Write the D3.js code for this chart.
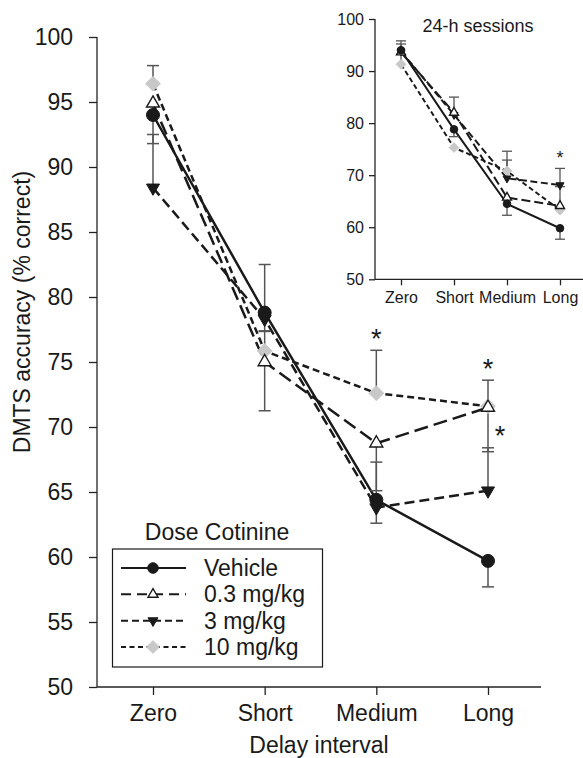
<!DOCTYPE html>
<html>
<head>
<meta charset="utf-8">
<script src="https://cdn.jsdelivr.net/npm/d3@7"></script>
<style>
  html, body { margin: 0; padding: 0; background: #fff; }
  svg { display: block; font-family: "Liberation Sans", Arial, sans-serif; }
</style>
</head>
<body>
<svg id="chart" width="583" height="758"></svg>
<script>
// Delay intervals and cotinine doses
const categories = ["Zero", "Short", "Medium", "Long"];
const doses = ["Vehicle", "0.3 mg/kg", "3 mg/kg", "10 mg/kg"];
const yTicksMain = [50, 55, 60, 65, 70, 75, 80, 85, 90, 95, 100];
const yTicksInset = [50, 60, 70, 80, 90, 100];

// Standard sessions: mean accuracy and one-sided SEM (negative = drawn downward)
const mainVehicle = [94.0, 78.8, 64.4, 59.7];
const mainVehicleErr = [-2.2, 3.7, -1.8, -2.0];
const main03 = [94.9, 75.0, 68.75, 71.5];
const main03Err = [-0.9, -3.75, -3.65, -3.4];
const main3 = [88.4, 78.3, 63.8, 65.1];
const main3Err = [4.1, -0.9, 3.5, 3.3];
const main10 = [96.4, 75.85, 72.6, 71.6];
const main10Err = [1.4, 1.5, 3.3, 2.0];

// 24-h sessions
const insVehicle = [94.0, 78.8, 64.5, 59.8];
const insVehicleErr = [1.8, -1.4, -2.2, -2.1];
const ins03 = [93.6, 82.0, 65.7, 64.1];
const ins03Err = [1.6, 3.0, 0, 3.7];
const ins3 = [93.8, 81.6, 69.4, 68.1];
const ins3Err = [0, 0, 3.5, 3.2];
const ins10 = [91.3, 75.3, 70.8, 63.3];
const ins10Err = [1.9, 0, 3.8, 0];

// Significance marks (delay, level on the accuracy scale)
const mainStars = [
  { cat: "Medium", at: 77.3, side: false },
  { cat: "Long", at: 75.0, side: false },
  { cat: "Long", at: 69.8, side: true }
];
const insetStars = [{ cat: "Long", at: 74.2, side: false }];

const seriesStyle = {
  "Vehicle":   { marker: "circle",   dash: null },
  "0.3 mg/kg": { marker: "triUp",    dash: "long" },
  "3 mg/kg":   { marker: "triDown",  dash: "mid" },
  "10 mg/kg":  { marker: "diamond",  dash: "short" }
};

function build(vals, errs) {
  return doses.map((d, i) => ({
    dose: d,
    points: categories.map((c, j) => ({ cat: c, v: vals[i][j], e: errs[i][j] }))
  }));
}
const mainSeries = build([mainVehicle, main03, main3, main10],
                         [mainVehicleErr, main03Err, main3Err, main10Err]);
const insetSeries = build([insVehicle, ins03, ins3, ins10],
                          [insVehicleErr, ins03Err, ins3Err, ins10Err]);

function markerPath(type, s) {
  if (type === "circle") {
    return d3.symbol(d3.symbolCircle, Math.PI * s * s)();
  }
  if (type === "triUp" || type === "triDown") {
    const h = s * Math.sqrt(3) / 2;
    const sg = type === "triUp" ? 1 : -1;
    return `M0,${-sg * h * 2 / 3}L${s / 2},${sg * h / 3}L${-s / 2},${sg * h / 3}Z`;
  }
  const r = s;
  return `M0,${-r}L${r},0L0,${r}L${-r},0Z`;
}

function markerAttrs(sel, type) {
  if (type === "circle") sel.attr("fill", "#1a1a1a").attr("stroke", "#1a1a1a").attr("stroke-width", 1);
  else if (type === "triUp") sel.attr("fill", "#fff").attr("stroke", "#1a1a1a").attr("stroke-width", 1.4);
  else if (type === "triDown") sel.attr("fill", "#1a1a1a").attr("stroke", "#1a1a1a").attr("stroke-width", 1);
  else sel.attr("fill", "#c8c8c8").attr("stroke", "#c8c8c8").attr("stroke-width", 0.8);
}

const svg = d3.select("#chart");
svg.append("rect").attr("width", 583).attr("height", 758).attr("fill", "#fff");

function drawPanel(cfg) {
  const g = svg.append("g");
  const x = d3.scalePoint().domain(categories).range(cfg.xRange);
  const y = d3.scaleLinear().domain([50, 100]).range(cfg.yRange);

  // axes
  const yAxis = d3.axisLeft(y).tickValues(cfg.yTicks).tickSize(cfg.tick).tickPadding(cfg.yPad).tickSizeOuter(0);
  const yg = g.append("g").attr("transform", `translate(${cfg.axisX},0)`).call(yAxis);
  yg.select(".domain").remove();
  g.append("line").attr("x1", cfg.axisX).attr("x2", cfg.axisX)
    .attr("y1", y(100)).attr("y2", y(50)).attr("stroke", "#222").attr("stroke-width", 1.3);

  const xAxis = d3.axisBottom(x).tickSize(cfg.tick).tickPadding(cfg.xPad).tickSizeOuter(0);
  const xg = g.append("g").attr("transform", `translate(0,${y(50)})`).call(xAxis);
  xg.select(".domain").remove();
  g.append("line").attr("x1", cfg.axisX).attr("x2", cfg.axisEnd)
    .attr("y1", y(50)).attr("y2", y(50)).attr("stroke", "#222").attr("stroke-width", 1.3);

  [yg, xg].forEach(a => {
    a.selectAll(".tick line").attr("stroke", "#222").attr("stroke-width", 1.3);
    a.selectAll(".tick text").attr("fill", "#1a1a1a").attr("font-size", cfg.font)
      .attr("font-family", "Liberation Sans, Arial, sans-serif");
  });

  const dashes = cfg.dashes;
  const line = d3.line().x(d => x(d.cat)).y(d => y(d.v));

  // draw 10 mg/kg first so Vehicle sits on top
  const order = mainOrder.map(d => cfg.series.find(s => s.dose === d));

  order.forEach(s => {
    const st = seriesStyle[s.dose];
    g.append("path").datum(s.points).attr("d", line)
      .attr("fill", "none").attr("stroke", "#1a1a1a").attr("stroke-width", cfg.lw)
      .attr("stroke-dasharray", st.dash ? dashes[st.dash] : null);
  });

  order.forEach(s => {
    const eb = g.append("g");
    s.points.filter(p => p.e !== 0).forEach(p => {
      const x0 = x(p.cat), y0 = y(p.v), y1 = y(p.v + p.e);
      eb.append("line").attr("x1", x0).attr("x2", x0).attr("y1", y0).attr("y2", y1)
        .attr("stroke", "#555").attr("stroke-width", cfg.ebw);
      eb.append("line").attr("x1", x0 - cfg.cap).attr("x2", x0 + cfg.cap).attr("y1", y1).attr("y2", y1)
        .attr("stroke", "#555").attr("stroke-width", cfg.ebw);
    });
  });

  order.forEach(s => {
    const st = seriesStyle[s.dose];
    const size = cfg.msize[st.marker];
    g.selectAll(null).data(s.points).join("path")
      .attr("d", markerPath(st.marker, size))
      .attr("transform", d => `translate(${x(d.cat)},${y(d.v)})`)
      .call(sel => markerAttrs(sel, st.marker));
  });

  cfg.stars.forEach(s => {
    g.append("text")
      .attr("x", x(s.cat) + (s.side ? cfg.starSide : 0))
      .attr("y", y(s.at) + cfg.starFont * 0.58)
      .attr("text-anchor", "middle").attr("font-size", cfg.starFont)
      .attr("fill", "#1a1a1a").text("*");
  });
  return { x, y, g };
}

const mainOrder = ["10 mg/kg", "3 mg/kg", "0.3 mg/kg", "Vehicle"];

const main = drawPanel({
  series: mainSeries, xRange: [153, 488], yRange: [687, 37],
  axisX: 97, axisEnd: 541, tick: 8, yPad: 16, xPad: 10, font: 23,
  yTicks: yTicksMain, lw: 2.5, ebw: 1.5, cap: 6,
  dashes: { long: "14,6", mid: "10,5", short: "7,4" },
  msize: { circle: 6.5, triUp: 13, triDown: 13, diamond: 7.5 },
  stars: mainStars, starFont: 27, starSide: 12
});

const inset = drawPanel({
  series: insetSeries, xRange: [401, 560], yRange: [279.3, 19],
  axisX: 375, axisEnd: 583, tick: 6, yPad: 5, xPad: 6, font: 16,
  yTicks: yTicksInset, lw: 2, ebw: 1.3, cap: 5,
  dashes: { long: "9,4", mid: "7,3.5", short: "5,3" },
  msize: { circle: 3.8, triUp: 9, triDown: 8, diamond: 5 },
  stars: insetStars, starFont: 18, starSide: 8
});

// titles
svg.append("text").attr("x", 478).attr("y", 32).attr("text-anchor", "middle")
  .attr("font-size", 18).attr("fill", "#1a1a1a").text("24-h sessions");

svg.append("text").attr("x", 319).attr("y", 753).attr("text-anchor", "middle")
  .attr("font-size", 23).attr("fill", "#1a1a1a").text("Delay interval");

svg.append("text").attr("transform", "translate(30,312) rotate(-90)")
  .attr("text-anchor", "middle").attr("font-size", 23).attr("fill", "#1a1a1a")
  .text("DMTS accuracy (% correct)");

// legend
const lg = svg.append("g");
lg.append("text").attr("x", 217).attr("y", 540).attr("text-anchor", "middle")
  .attr("font-size", 23).attr("fill", "#1a1a1a").text("Dose Cotinine");
lg.append("rect").attr("x", 112.5).attr("y", 549).attr("width", 210).attr("height", 118)
  .attr("fill", "#fff").attr("stroke", "#1a1a1a").attr("stroke-width", 1.2);

const legendDash = { long: "10,6", mid: "7,4", short: "5,3.5" };
const legendSize = { circle: 5.3, triUp: 10, triDown: 10, diamond: 6.5 };
const rowY = d3.scalePoint().domain(doses).range([568, 647]);
doses.forEach(d => {
  const st = seriesStyle[d];
  const yy = rowY(d);
  lg.append("line").attr("x1", 121).attr("x2", 186).attr("y1", yy).attr("y2", yy)
    .attr("stroke", "#1a1a1a").attr("stroke-width", 2)
    .attr("stroke-dasharray", st.dash ? legendDash[st.dash] : null);
  lg.append("path").attr("d", markerPath(st.marker, legendSize[st.marker]))
    .attr("transform", `translate(153,${yy})`).call(sel => markerAttrs(sel, st.marker));
  lg.append("text").attr("x", 204).attr("y", yy + 8).attr("font-size", 23)
    .attr("fill", "#1a1a1a").text(d);
});
</script>
</body>
</html>
